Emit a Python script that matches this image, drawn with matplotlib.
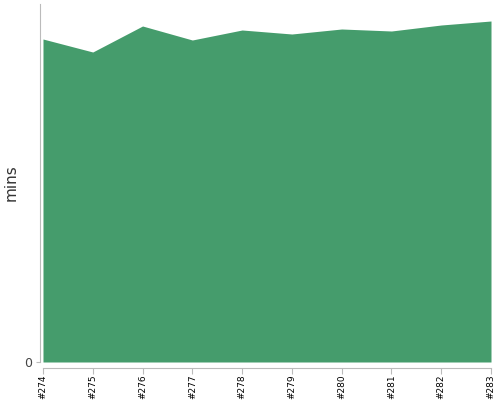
import numpy as np
import matplotlib
matplotlib.use("Agg")
import matplotlib.pyplot as plt

builds = ["#274", "#275", "#276", "#277", "#278", "#279", "#280", "#281", "#282", "#283"]
mins = [32.3, 31.0, 33.6, 32.2, 33.2, 32.8, 33.3, 33.1, 33.7, 34.1]
y_top = 35.8

fig = plt.figure(figsize=(5, 4), dpi=100)
ax = fig.add_axes([0.08, 0.095, 0.902, 0.895])

x = np.arange(len(builds))
ax.fill_between(x, 0, mins, color="#459c6c", linewidth=0)

ax.set_xlim(-0.06, len(builds) - 1)
ax.set_ylim(0, y_top)

ax.set_xticks(x)
ax.set_xticklabels(builds)
ax.set_yticks([0])
ax.set_yticklabels(["0"])
ax.set_ylabel("mins", fontsize=11, color="#333333")
ax.yaxis.set_label_coords(-0.047, 0.5)

for side in ["top", "right"]:
    ax.spines[side].set_visible(False)
ax.spines["left"].set_color("#bbbbbb")
ax.spines["bottom"].set_color("#bbbbbb")
ax.spines["bottom"].set_position(("outward", 4))
ax.spines["bottom"].set_bounds(0, len(builds) - 1)
ax.tick_params(axis="x", color="#bbbbbb", length=4, pad=1,
               labelrotation=90, labelsize=6.5, labelcolor="black")
ax.tick_params(axis="y", color="#bbbbbb", length=3, pad=3,
               labelsize=9, labelcolor="#444444")

fig.savefig("out.png", dpi=100)
